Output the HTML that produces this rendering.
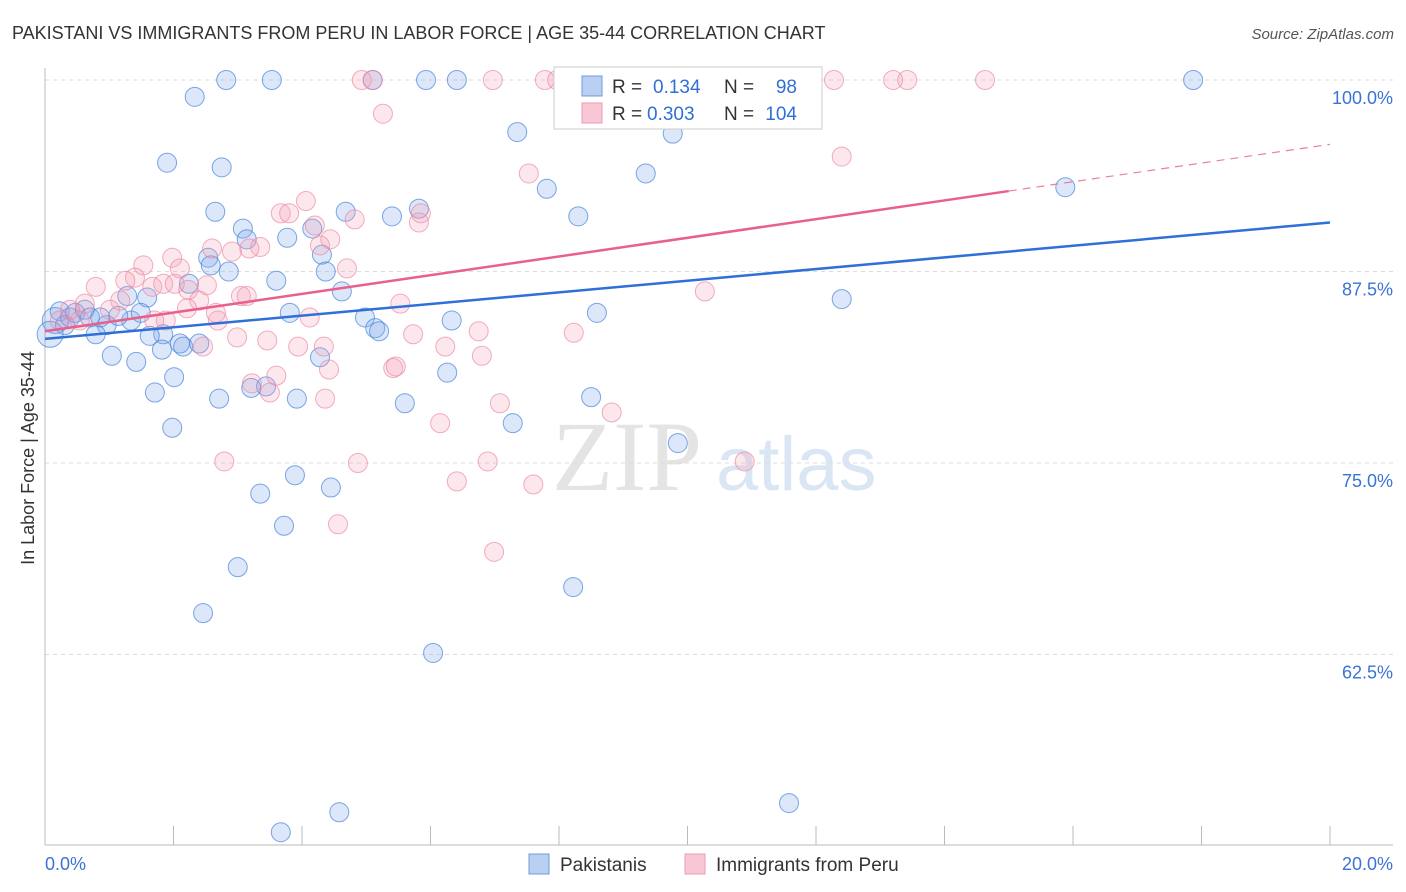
<!DOCTYPE html>
<html><head><meta charset="utf-8"><style>
body{margin:0;background:#fff;font-family:"Liberation Sans",sans-serif;}
#wrap{position:relative;width:1406px;height:892px;overflow:hidden;}
</style></head><body>
<div id="wrap">
<svg id="svg" width="1406" height="892" xmlns="http://www.w3.org/2000/svg">
<text x="12" y="39" font-size="18" fill="#333">PAKISTANI VS IMMIGRANTS FROM PERU IN LABOR FORCE | AGE 35-44 CORRELATION CHART</text>
<text x="1394" y="39" font-size="15" fill="#555" font-style="italic" text-anchor="end">Source: ZipAtlas.com</text>
<text transform="translate(34,458) rotate(-90)" font-size="18" fill="#333" text-anchor="middle">In Labor Force | Age 35-44</text>
<g><text x="552" y="490" font-size="100" font-family="Liberation Serif,serif" fill="#e4e4e4">ZIP</text><text x="716" y="490" font-size="76" fill="#dbe6f5">atlas</text></g>
<g id="grid"></g>
<g id="pts"></g>
<g id="lines"></g>
<g>
<rect x="554" y="67" width="268" height="62" fill="#fff" stroke="#ccc"/>
<rect x="582" y="76" width="20" height="20" fill="#b9d0f2" stroke="#6a9be0"/>
<rect x="582" y="103" width="20" height="20" fill="#f9c6d5" stroke="#ee9ab4"/>
<text x="612" y="93" font-size="19" fill="#333">R =</text>
<text x="653" y="93" font-size="19" fill="#2f6fd8">0.134</text>
<text x="724" y="93" font-size="19" fill="#333">N =</text>
<text x="797" y="93" font-size="19" fill="#2f6fd8" text-anchor="end">98</text>
<text x="612" y="120" font-size="19" fill="#333">R =</text>
<text x="647" y="120" font-size="19" fill="#2f6fd8">0.303</text>
<text x="724" y="120" font-size="19" fill="#333">N =</text>
<text x="797" y="120" font-size="19" fill="#2f6fd8" text-anchor="end">104</text>
</g>
<g>
<rect x="529" y="854" width="20" height="20" fill="#b9d0f2" stroke="#6a9be0"/>
<text x="560" y="871" font-size="19" fill="#333">Pakistanis</text>
<rect x="685" y="854" width="20" height="20" fill="#f9c6d5" stroke="#ee9ab4"/>
<text x="716" y="871" font-size="19" fill="#333">Immigrants from Peru</text>
</g>
<text x="45" y="870" font-size="18" fill="#3a73d6">0.0%</text>
<text x="1393" y="870" font-size="18" fill="#3a73d6" text-anchor="end">20.0%</text>
</svg>
</div>
<script>
const yTicks=[100,87.5,75,62.5];
const yTickLabels=["100.0%","87.5%","75.0%","62.5%"];
const xTicks=[0,2,4,6,8,10,12,14,16,18,20];
const blueX=[2.82,3.53,5.10,5.93,6.41,8.58,11.27,17.87,2.33,7.35,9.77,1.90,2.75,9.35,7.81,15.88,2.65,4.68,5.82,5.40,8.30,3.08,4.16,3.14,3.77,2.54,4.31,2.58,4.37,2.86,3.60,2.24,1.59,1.28,4.62,12.40,3.81,8.59,6.33,4.98,5.14,5.20,1.34,0.96,1.14,1.49,1.84,0.79,1.63,2.10,2.15,1.82,2.40,4.28,1.04,1.42,6.26,2.01,1.71,3.44,3.21,2.71,3.92,5.60,8.50,7.28,1.98,9.85,3.89,3.35,4.45,3.72,3.00,8.22,2.46,6.04,4.58,11.58,3.67,0.16,0.23,0.31,0.39,0.47,0.62,0.70,0.86,0.08];
const blueY=[100,100,100,100,100,100,100,100,98.9,96.6,96.5,94.6,94.3,93.9,92.9,93.0,91.4,91.4,91.6,91.1,91.1,90.3,90.3,89.6,89.7,88.4,88.6,87.9,87.5,87.5,86.9,86.7,85.8,85.9,86.2,85.7,84.8,84.8,84.3,84.5,83.8,83.6,84.3,84.0,84.6,84.8,83.4,83.4,83.3,82.8,82.6,82.4,82.8,81.9,82.0,81.6,80.9,80.6,79.6,80.0,79.9,79.2,79.2,78.9,79.3,77.6,77.3,76.3,74.2,73.0,73.4,70.9,68.2,66.9,65.2,62.6,52.2,52.8,50.9,84.3,84.9,84.0,84.5,84.8,85.0,84.5,84.5,83.4];
const pinkX=[4.93,5.10,6.97,7.78,7.97,8.23,9.51,12.28,13.20,13.42,14.63,5.26,12.40,7.53,4.06,3.67,3.80,5.85,5.82,4.82,4.20,2.60,3.35,2.91,3.18,1.98,2.10,1.53,1.40,1.25,1.67,1.84,2.02,2.23,2.52,0.79,3.05,3.14,2.40,2.21,2.69,2.66,4.12,5.53,5.73,6.75,8.23,2.99,3.46,2.46,3.94,4.34,6.23,6.80,4.42,5.42,5.46,3.22,3.50,3.60,4.36,7.08,8.82,6.15,2.79,4.87,6.89,10.89,6.41,7.60,4.56,6.99,10.27,4.28,4.70,4.44,1.88,1.70,1.17,1.01,0.62,0.54,0.23,0.39];
const pinkY=[100,100,100,100,100,100,100,100,100,100,100,97.8,95.0,93.9,92.1,91.3,91.3,91.3,90.7,90.9,90.5,89.0,89.1,88.8,89.0,88.4,87.7,87.9,87.1,86.9,86.5,86.7,86.7,86.3,86.6,86.5,85.9,85.9,85.6,85.1,84.3,84.8,84.5,85.4,83.4,83.6,83.5,83.2,83.0,82.6,82.6,82.6,82.6,82.0,81.1,81.2,81.3,80.2,79.6,80.7,79.2,78.9,78.3,77.6,75.1,75.0,75.1,75.1,73.8,73.6,71.0,69.2,86.2,89.2,87.7,89.6,84.3,84.3,85.6,85.0,85.4,84.3,84.3,85.0];
const blueTrend=[83.1,90.7];
const pinkTrend=[83.6,95.8];
const pinkSolidEnd=15;

const NS="http://www.w3.org/2000/svg";
const X=v=>45+v*64.25;
const Y=v=>80+(100-v)*191.5/12.5;
function mk(tag,attrs,parent){const e=document.createElementNS(NS,tag);for(const k in attrs)e.setAttribute(k,attrs[k]);parent.appendChild(e);return e;}
const grid=document.getElementById('grid');
yTicks.forEach((t,i)=>{
  const l=mk('line',{x1:45,x2:1393,y1:Y(t),y2:Y(t),stroke:'#ddd','stroke-dasharray':'4,4'},grid);
  
  
  const tx=mk('text',{x:1393,y:Y(t)+24,'font-size':18,fill:'#3a73d6','text-anchor':'end'},grid);
  tx.textContent=yTickLabels[i];
  
  
});
const ax=mk('line',{x1:45,x2:45,y1:68,y2:845,stroke:'#bbb'},grid);


const bx=mk('line',{x1:45,x2:1393,y1:845,y2:845,stroke:'#bbb'},grid);


xTicks.forEach(t=>{
  const l=mk('line',{x1:X(t),x2:X(t),y1:826,y2:845,stroke:'#bbb'},grid);
  
  
});
const pts=document.getElementById('pts');
function drawPts(xs,ys,fill,stroke,name){
  xs.forEach((x,i)=>{
    const r=(x<0.2)?13:9.5;
    const c=mk('circle',{cx:X(x),cy:Y(ys[i]),r:r,fill:fill,stroke:stroke,'stroke-width':1},pts);
    
    
  });
}
drawPts(blueX,blueY,'rgba(130,170,235,0.28)','rgba(70,130,220,0.7)','pakistani-point');
drawPts(pinkX,pinkY,'rgba(245,160,185,0.25)','rgba(235,130,160,0.65)','peru-point');
const lines=document.getElementById('lines');
const bl=mk('line',{x1:X(0),y1:Y(blueTrend[0]),x2:X(20),y2:Y(blueTrend[1]),stroke:'#2f6fd8','stroke-width':2.5},lines);


const pv=x=>pinkTrend[0]+(pinkTrend[1]-pinkTrend[0])*x/20;
const pl=mk('line',{x1:X(0),y1:Y(pv(0)),x2:X(pinkSolidEnd),y2:Y(pv(pinkSolidEnd)),stroke:'#e8608c','stroke-width':2.5},lines);


const pd=mk('line',{x1:X(pinkSolidEnd),y1:Y(pv(pinkSolidEnd)),x2:X(20),y2:Y(pv(20)),stroke:'#e8809f','stroke-width':1.2,'stroke-dasharray':'8,6'},lines);


</script>
</body></html>
